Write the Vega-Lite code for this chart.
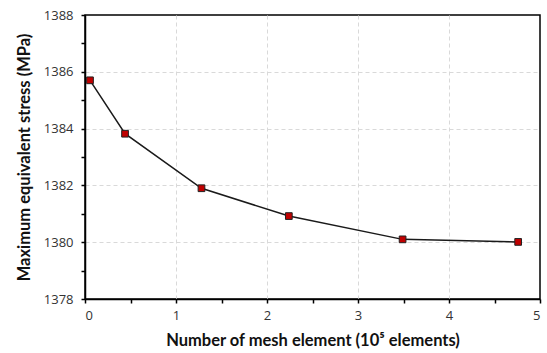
{
  "$schema": "https://vega.github.io/schema/vega-lite/v6.json",
  "width": 455,
  "height": 284,
  "autosize": {"type": "none"},
  "padding": {"left": 85, "top": 15, "right": 7, "bottom": 54},
  "background": "white",
  "config": {
    "view": {"stroke": "black", "strokeWidth": 1.5},
    "font": "Lato"
  },
  "data": {
    "values": [
      {"n": 0.055, "s": 1385.7},
      {"n": 0.44, "s": 1383.82},
      {"n": 1.28, "s": 1381.9},
      {"n": 2.24, "s": 1380.92},
      {"n": 3.49, "s": 1380.1},
      {"n": 4.76, "s": 1380.01}
    ]
  },
  "encoding": {
    "x": {
      "field": "n", "type": "quantitative",
      "scale": {"domain": [0, 5], "nice": false, "zero": false},
      "axis": {
        "title": "Number of mesh element (10⁵ elements)",
        "values": [0, 0.5, 1, 1.5, 2, 2.5, 3, 3.5, 4, 4.5, 5],
        "format": "~g",
        "labelExpr": "datum.value % 1 === 0 ? datum.label : ''",
        "gridDash": [4, 3], "gridColor": "#d9d9d9",
        "gridOpacity": {"condition": {"test": "datum.value % 1 !== 0 || datum.value === 0 || datum.value === 5", "value": 0}, "value": 1},
        "domainColor": "black", "domainWidth": 1.5,
        "tickColor": "black", "tickWidth": 1.5, "tickSize": 4,
        "labelFont": "Open Sans", "labelFontSize": 13, "labelColor": "#333333", "labelPadding": 6,
        "titleFontSize": 16.5, "titleFontWeight": "bold", "titleColor": "#111111", "titlePadding": 10
      }
    },
    "y": {
      "field": "s", "type": "quantitative",
      "scale": {"domain": [1378, 1388], "nice": false, "zero": false},
      "axis": {
        "title": "Maximum equivalent stress (MPa)",
        "values": [1378, 1379, 1380, 1381, 1382, 1383, 1384, 1385, 1386, 1387, 1388],
        "labelExpr": "datum.value % 2 === 0 ? datum.label : ''",
        "format": "d",
        "gridDash": [4, 3], "gridColor": "#d9d9d9",
        "gridOpacity": {"condition": {"test": "datum.value % 2 !== 0 || datum.value === 1378 || datum.value === 1388", "value": 0}, "value": 1},
        "domainColor": "black", "domainWidth": 1.5,
        "tickColor": "black", "tickWidth": 1.5, "tickSize": 4,
        "labelFont": "Open Sans", "labelFontSize": 13, "labelColor": "#333333", "labelPadding": 8,
        "titleFontSize": 16.5, "titleFontWeight": "bold", "titleColor": "#111111", "titlePadding": 11
      }
    }
  },
  "layer": [
    {"mark": {"type": "line", "color": "#1a1a1a", "strokeWidth": 1.5}},
    {"mark": {"type": "point", "shape": "square", "size": 45, "filled": true, "color": "#c00000", "stroke": "#222222", "strokeWidth": 1, "opacity": 1}}
  ]
}
